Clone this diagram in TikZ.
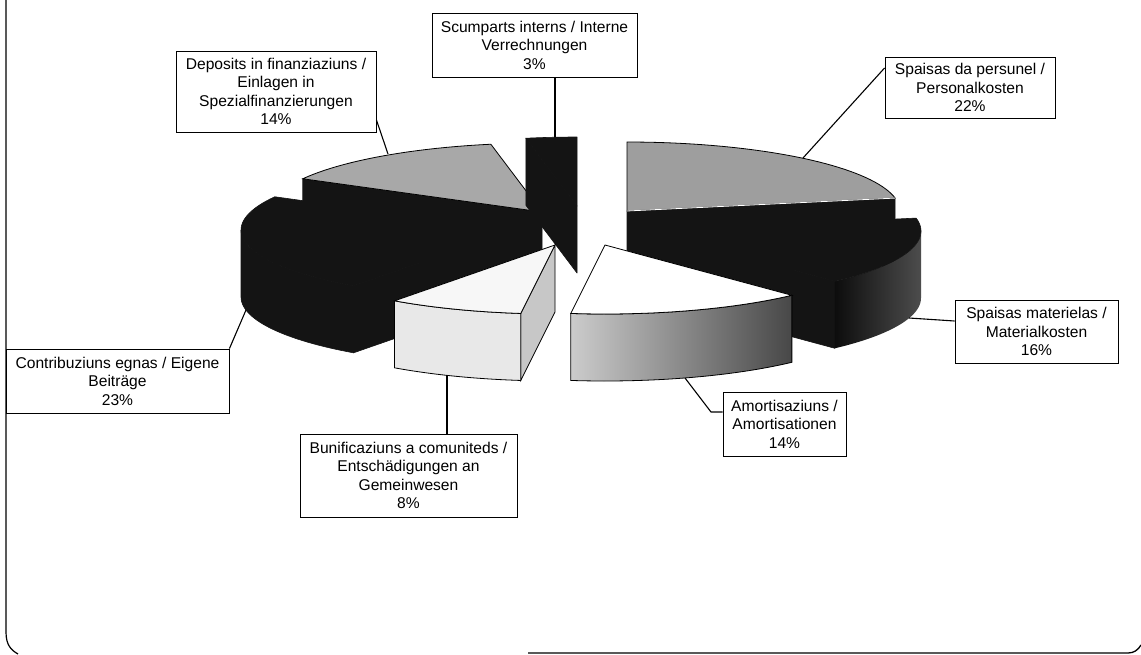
\documentclass[tikz,border=0pt]{standalone}
\usepackage{fontspec}
\setmainfont{Liberation Sans}
\begin{document}
\begin{tikzpicture}[x=1pt,y=-1pt,
  declare function={ex(\xa,\xb)=\xa+273*sin(\xb); ey(\xa,\xb)=\xa-69*cos(\xb); eb(\xa,\xb)=\xa+67-69*cos(\xb);},
  lbl/.style={draw=black, line width=0.9pt, fill=white, align=center, inner sep=0pt,
              font=\fontsize{15.6}{18.5}\selectfont},
  lead/.style={draw=black, line width=1.1pt},
  dk/.style={fill=black!92, draw=black!92, line width=0.6pt, line join=round},
  dkside/.style={left color=black!95, right color=black!70},
  grtop/.style={fill=black!38, draw=black, line width=0.8pt},
  edge/.style={draw=black, line width=0.8pt}
]
\fill[white] (0,0) rectangle (1141,654);
\useasboundingbox (0,0) rectangle (1141,654);

% frame
\draw[line width=1.2pt] (6,0) -- (6,632) .. controls (6,645) and (11,650) .. (18,654);
\draw[line width=1.3pt] (528,653) -- (1128,653) .. controls (1134,653) and (1138,650) .. (1141,645);

% ---- Deposits (298.8 - 349.2), centre (542,212)
\filldraw[dk] (542,212) -- ({ex(542,298.8)},{ey(212,298.8)}) -- ({ex(542,298.8)},{eb(212,298.8)}) -- (542,279) -- cycle;
\filldraw[grtop, fill=black!34] (542,212) -- plot[domain=298.8:349.2,samples=30] ({ex(542,\x)},{ey(212,\x)}) -- cycle;

% ---- Scumparts (349.2 - 360), centre (577,206)
\filldraw[dk] (577,206) -- ({ex(577,349.2)},{ey(206,349.2)}) -- ({ex(577,349.2)},{eb(206,349.2)}) -- (577,273) -- cycle;
\filldraw[dk] (577,206) -- plot[domain=349.2:360,samples=10] ({ex(577,\x)},{ey(206,\x)}) -- cycle;

% ---- Personnel (0 - 79.2), centre (627,211)
\filldraw[dk] (627,211) -- ({ex(627,79.2)},{ey(211,79.2)}) -- ({ex(627,79.2)},{eb(211,79.2)}) -- (627,278) -- cycle;
\filldraw[grtop] (627,211) -- plot[domain=0:79.2,samples=40] ({ex(627,\x)},{ey(211,\x)}) -- cycle;
\draw[white, line width=0.8pt] (627,211) -- ({ex(627,79.2)},{ey(211,79.2)});

% ---- Contribuziuns (216 - 298.8), centre (514,230)
\filldraw[dk] (514,230) -- ({ex(514,216)},{ey(230,216)}) -- ({ex(514,216)},{eb(230,216)}) -- (514,297) -- cycle;
\filldraw[dk] plot[domain=216:270,samples=30] ({ex(514,\x)},{ey(230,\x)}) -- plot[domain=270:216,samples=30] ({ex(514,\x)},{eb(230,\x)}) -- cycle;
\filldraw[dk] (514,230) -- plot[domain=216:298.8,samples=40] ({ex(514,\x)},{ey(230,\x)}) -- cycle;

% ---- Material (79.2 - 136.8), centre (648,231)
\filldraw[dk] (648,231) -- ({ex(648,136.8)},{ey(231,136.8)}) -- ({ex(648,136.8)},{eb(231,136.8)}) -- (648,298) -- cycle;
\shade[dkside] plot[domain=90:136.8,samples=30] ({ex(648,\x)},{ey(231,\x)}) -- plot[domain=136.8:90,samples=30] ({ex(648,\x)},{eb(231,\x)}) -- cycle;
\filldraw[dk] (648,231) -- plot[domain=79.2:136.8,samples=30] ({ex(648,\x)},{ey(231,\x)}) -- cycle;

% ---- Bunificaziuns (187.2 - 216), centre (555,245)
\filldraw[edge, fill=black!22] (555,245) -- ({ex(555,187.2)},{ey(245,187.2)}) -- ({ex(555,187.2)},{eb(245,187.2)}) -- (555,312) -- cycle;
\filldraw[edge, fill=black!9] plot[domain=187.2:216,samples=20] ({ex(555,\x)},{ey(245,\x)}) -- plot[domain=216:187.2,samples=20] ({ex(555,\x)},{eb(245,\x)}) -- cycle;
\filldraw[edge, fill=black!3] (555,245) -- plot[domain=187.2:216,samples=20] ({ex(555,\x)},{ey(245,\x)}) -- cycle;

% ---- Amortisaziuns (136.8 - 187.2), centre (605,245)
\shade[left color=black!20, right color=black!72] plot[domain=136.8:187.2,samples=30] ({ex(605,\x)},{ey(245,\x)}) -- plot[domain=187.2:136.8,samples=30] ({ex(605,\x)},{eb(245,\x)}) -- cycle;
\draw[edge] plot[domain=136.8:187.2,samples=30] ({ex(605,\x)},{ey(245,\x)}) -- plot[domain=187.2:136.8,samples=30] ({ex(605,\x)},{eb(245,\x)}) -- cycle;
\filldraw[edge, fill=white] (605,245) -- plot[domain=136.8:187.2,samples=30] ({ex(605,\x)},{ey(245,\x)}) -- cycle;

% ---- anchor points of the leaders
\coordinate (pScum) at (555,137);
\coordinate (pDepo) at (388,154);
\coordinate (pPers) at (803,158);
\coordinate (pMat) at (909,318);
\coordinate (pCont) at (246,310);
\coordinate (pBun) at (447,375);
\coordinate (pAmo) at (685,378);
\coordinate (kAmo) at (711,412);

% ---- labels
\node[lbl, minimum width=205pt, minimum height=64pt] (lScum) at (534.5,45) {Scumparts interns / Interne\\Verrechnungen\\3\%};
\node[lbl, minimum width=200pt, minimum height=81pt] (lDepo) at (276,91.5) {Deposits in finanziaziuns /\\Einlagen in\\Spezialfinanzierungen\\14\%};
\node[lbl, minimum width=170pt, minimum height=61pt] (lPers) at (970,87.5) {Spaisas da persunel /\\Personalkosten\\22\%};
\node[lbl, minimum width=163pt, minimum height=63pt] (lMat) at (1036.5,331.5) {Spaisas materielas /\\Materialkosten\\16\%};
\node[lbl, minimum width=223pt, minimum height=64pt] (lCont) at (117.5,381) {Contribuziuns egnas / Eigene\\Beiträge\\23\%};
\node[lbl, minimum width=217pt, minimum height=83pt] (lBun) at (408.5,475.5) {Bunificaziuns a comuniteds /\\Entschädigungen an\\Gemeinwesen\\8\%};
\node[lbl, minimum width=123pt, minimum height=64pt] (lAmo) at (784.5,424) {Amortisaziuns /\\Amortisationen\\14\%};

% ---- leaders
\draw[lead] (lScum.south -| pScum) -- (pScum);
\draw[lead] (lDepo.east |- 0,120) -- (pDepo);
\draw[lead] (lPers.west |- 0,68) -- (pPers);
\draw[lead] (lMat.west |- 0,321) -- (pMat);
\draw[lead] (lCont.north east) -- (pCont);
\draw[lead] (lBun.north -| pBun) -- (pBun);
\draw[lead] (lAmo.west |- kAmo) -- (kAmo) -- (pAmo);
\end{tikzpicture}
\end{document}
